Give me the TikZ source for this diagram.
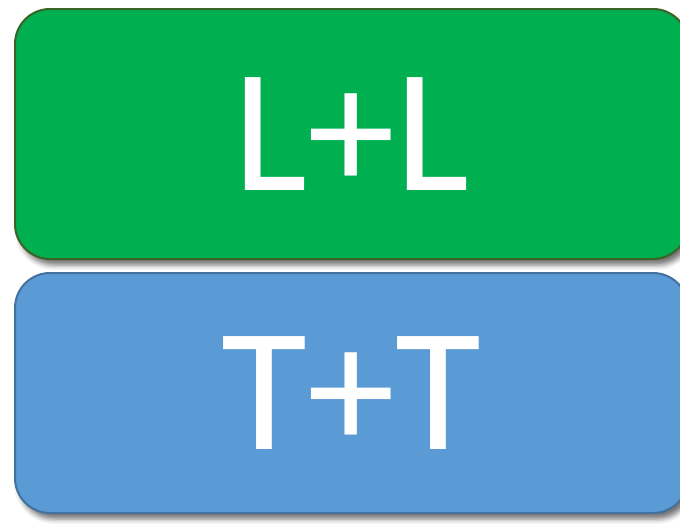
\documentclass[tikz,border=0pt]{standalone}
\usepackage{fontspec}
\setmainfont{Carlito}
\usetikzlibrary{shadows.blur}
\definecolor{gfill}{HTML}{00B050}
\definecolor{gdraw}{HTML}{3B6324}
\definecolor{bfill}{HTML}{5B9BD5}
\definecolor{bdraw}{HTML}{41719C}
\tikzset{
  card/.style={rounded corners=35pt, line width=2pt, text=white,
    font=\fontsize{176}{176}\selectfont,
    blur shadow={shadow xshift=4pt, shadow yshift=-6pt, shadow opacity=55, shadow blur radius=5pt},
    minimum width=673pt, inner sep=0pt},
}
\begin{document}
\begin{tikzpicture}[x=1pt,y=-1pt]
\useasboundingbox (0,0) rectangle (680,530);
\node[card, fill=gfill, draw=gdraw, minimum height=250pt] (ll) at (351.5,134) {L+L};
\node[card, fill=bfill, draw=bdraw, minimum height=240pt] (tt) at (351.5,393) {T+T};
\end{tikzpicture}
\end{document}
